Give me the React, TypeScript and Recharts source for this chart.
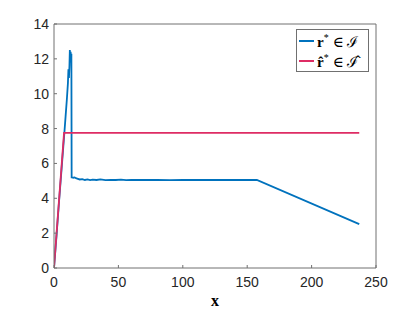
import React from 'react';
import { LineChart, Line, XAxis, YAxis } from 'recharts';

// axis ticks
const xTicks = [0, 50, 100, 150, 200, 250];
const yTicks = [0, 2, 4, 6, 8, 10, 12, 14];

// r* in I (blue): ramp, spike, noisy plateau, final decline
const rX = [
  0, 2, 4, 6, 8, 9, 10, 10.8, 11.2, 11.6, 12.0, 12.3, 12.6, 12.9, 13.2, 13.5, 13.7,
  14, 15, 16, 17, 18, 20, 22, 24, 26, 28, 30, 33, 36, 40, 44, 48, 52, 56, 60, 65, 70,
  80, 90, 100, 120, 140, 157.5, 237,
];
const rY = [
  0, 1.9, 3.9, 5.8, 7.7, 8.7, 9.7, 10.6, 11.4, 10.9, 11.6, 12.5, 12.0, 12.4, 11.8, 12.3, 5.2,
  5.2, 5.18, 5.2, 5.15, 5.13, 5.08, 5.1, 5.05, 5.08, 5.04, 5.07, 5.05, 5.08, 5.04, 5.06, 5.05, 5.07, 5.04, 5.05, 5.06, 5.05,
  5.05, 5.04, 5.05, 5.05, 5.05, 5.05, 2.52,
];

// r-hat* in I-hat (red)
const rHatX = [0, 7.8, 237];
const rHatY = [0, 7.75, 7.75];

const toPoints = (xs: number[], ys: number[]) => xs.map((x, i) => ({ x, y: ys[i] }));
const rData = toPoints(rX, rY);
const rHatData = toPoints(rHatX, rHatY);

const BLUE = '#0072BD';
const RED = '#DE2C64';
const AXIS = '#707070';
const TEXT = '#262626';
const TICK_FONT = '"Liberation Sans", Helvetica, Arial, sans-serif';
const MATH_FONT = '"Liberation Serif", "DejaVu Serif", serif';
const TL = 3;

const BottomTick = (props: any) => {
  const { x, y, payload } = props;
  const axisY = y - 9;
  return (
    <g>
      <line x1={x} x2={x} y1={axisY} y2={axisY - TL} stroke={AXIS} />
      <text x={x} y={y} dy="0.71em" textAnchor="middle" fill={TEXT} fontSize={14} fontFamily={TICK_FONT}>
        {payload.value}
      </text>
    </g>
  );
};

const LeftTick = (props: any) => {
  const { x, y, payload } = props;
  const axisX = x + 5;
  return (
    <g>
      <line x1={axisX} x2={axisX + TL} y1={y} y2={y} stroke={AXIS} />
      <text x={x} y={y} dy="0.355em" textAnchor="end" fill={TEXT} fontSize={14} fontFamily={TICK_FONT}>
        {payload.value}
      </text>
    </g>
  );
};

const TopTick = (props: any) => {
  const { x, y } = props;
  return <line x1={x} x2={x} y1={y} y2={y + TL} stroke={AXIS} />;
};

const RightTick = (props: any) => {
  const { x, y } = props;
  return <line x1={x} x2={x - TL} y1={y} y2={y} stroke={AXIS} />;
};

const legendRow = { display: 'flex', alignItems: 'center', height: 20 } as const;
const swatch = (c: string) => ({ display: 'inline-block', width: 15, height: 2, background: c, marginRight: 3 });

const LegendBox = () => (
  <div
    style={{
      position: 'absolute',
      left: 296,
      top: 29,
      width: 73,
      height: 43,
      boxSizing: 'border-box',
      border: `1px solid ${AXIS}`,
      background: '#fff',
      padding: '1px 0 0 2px',
      fontFamily: MATH_FONT,
      fontSize: 15,
      color: '#000',
    }}
  >
    <div style={legendRow}>
      <span style={swatch(BLUE)} />
      <span>
        <b>r</b>
        <sup style={{ fontSize: 10 }}>*</sup> ∈ ℐ
      </span>
    </div>
    <div style={legendRow}>
      <span style={swatch(RED)} />
      <span>
        <b>r̂</b>
        <sup style={{ fontSize: 10 }}>*</sup> ∈ ℐ̂
      </span>
    </div>
  </div>
);

export default function App() {
  return (
    <div style={{ position: 'absolute', left: 0, top: 0, width: 415, height: 312, background: '#fff' }}>
      <LineChart width={415} height={312} margin={{ top: 23, right: 38, bottom: 0, left: 14 }}>
        <XAxis
          type="number"
          dataKey="x"
          domain={[0, 250]}
          ticks={xTicks}
          tickSize={0}
          tickMargin={9}
          tick={<BottomTick />}
          axisLine={{ stroke: AXIS }}
          height={44}
          allowDataOverflow
          label={{
            value: 'x',
            position: 'insideBottom',
            offset: 6,
            fill: '#000',
            fontSize: 16,
            fontWeight: 'bold',
            fontFamily: MATH_FONT,
          }}
        />
        <XAxis
          xAxisId="top"
          orientation="top"
          type="number"
          dataKey="x"
          domain={[0, 250]}
          ticks={xTicks}
          tickSize={0}
          tickMargin={0}
          tick={<TopTick />}
          axisLine={{ stroke: AXIS }}
          height={1}
        />
        <YAxis
          type="number"
          domain={[0, 14]}
          ticks={yTicks}
          tickSize={0}
          tickMargin={5}
          tick={<LeftTick />}
          axisLine={{ stroke: AXIS }}
          width={40}
          allowDataOverflow
        />
        <YAxis
          yAxisId="right"
          orientation="right"
          type="number"
          domain={[0, 14]}
          ticks={yTicks}
          tickSize={0}
          tickMargin={0}
          tick={<RightTick />}
          axisLine={{ stroke: AXIS }}
          width={1}
        />
        <Line
          data={rData}
          dataKey="y"
          name="r"
          type="linear"
          stroke={BLUE}
          strokeWidth={1.8}
          dot={false}
          isAnimationActive={false}
        />
        <Line
          data={rHatData}
          dataKey="y"
          name="rhat"
          type="linear"
          stroke={RED}
          strokeWidth={1.8}
          dot={false}
          isAnimationActive={false}
        />
      </LineChart>
      <LegendBox />
    </div>
  );
}
